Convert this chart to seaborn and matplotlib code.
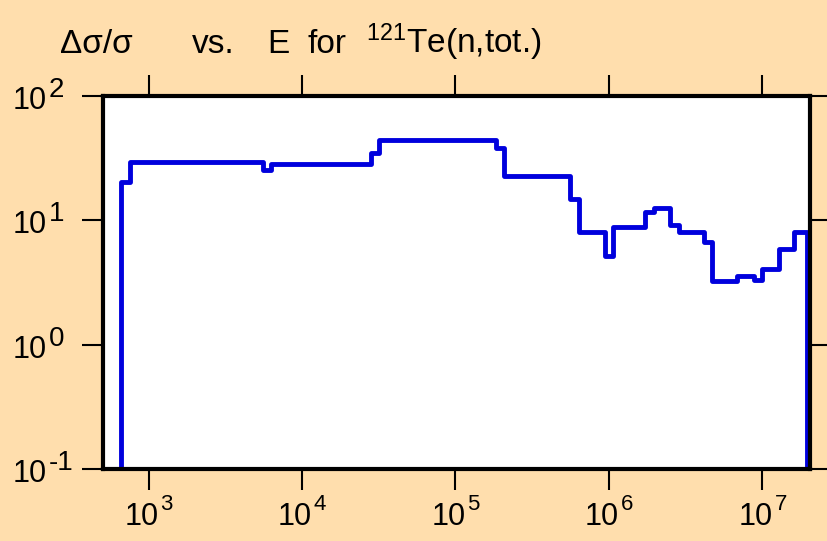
import matplotlib
matplotlib.use("Agg")
import matplotlib.pyplot as plt
import seaborn as sns
from matplotlib.ticker import FixedLocator, NullLocator, NullFormatter

# group boundaries (eV) and relative uncertainty (%) of each group
energy_edges = [665, 752, 5.6e3, 6.3e3, 2.82e4, 3.18e4, 1.84e5, 2.07e5,
                5.61e5, 6.37e5, 9.4e5, 1.07e6, 1.73e6, 1.96e6, 2.51e6,
                2.87e6, 4.14e6, 4.71e6, 6.84e6, 8.77e6, 9.95e6, 1.29e7,
                1.6e7, 1.95e7]
rel_unc = [20.4, 29.6, 25.4, 28.4, 34.8, 43.9, 38.2, 22.7, 14.9, 8.1,
           5.2, 8.9, 11.6, 12.6, 9.2, 8.1, 6.75, 3.27, 3.55, 3.29, 4.06,
           5.9, 8.05]
x_exps = [3, 4, 5, 6, 7]
y_exps = [-1, 0, 1, 2]
title_parts = ["Δσ/σ", "vs.", "E", "for", "$^{121}$Te(n,tot.)"]
title_x = [60, 192, 267, 307, 366]  # left edge of each word, px

bg = "#ffdead"
floor = 1e-3  # the curve drops out of the frame at both ends

sns.set_theme(style="ticks")
plt.rcParams["font.family"] = ["Liberation Sans", "DejaVu Sans"]
plt.rcParams["mathtext.fontset"] = "custom"
plt.rcParams["mathtext.rm"] = "Liberation Sans"
plt.rcParams["mathtext.it"] = "Liberation Sans:italic"

xs = [energy_edges[0]] + energy_edges
ys = [floor] + rel_unc + [floor]

W, H = 827, 541
fig = plt.figure(figsize=(W / 100, H / 100), dpi=100, facecolor=bg)
ax = fig.add_axes([0.1245, 0.133, 0.8545, 0.6896])
ax.set_facecolor("white")

sns.lineplot(x=xs, y=ys, ax=ax, sort=False, estimator=None,
             drawstyle="steps-post", color="#0000dd", linewidth=3.5)

ax.set_xscale("log")
ax.set_yscale("log")
ax.set_xlim(505, 2.03e7)
ax.set_ylim(0.1, 100)
ax.xaxis.set_major_locator(FixedLocator([10.0 ** e for e in x_exps]))
ax.yaxis.set_major_locator(FixedLocator([10.0 ** e for e in y_exps]))
ax.xaxis.set_minor_locator(NullLocator())
ax.yaxis.set_minor_locator(NullLocator())
ax.xaxis.set_major_formatter(NullFormatter())
ax.yaxis.set_major_formatter(NullFormatter())

for s in ax.spines.values():
    s.set_visible(True)
    s.set_color("black")
    s.set_linewidth(3)

ax.tick_params(which="major", direction="out", length=15, width=1.5,
               color="black", top=True, right=True)

# tick labels: "10" with a large raised exponent
lab = dict(textcoords="offset pixels", color="black", va="baseline",
           annotation_clip=False)
for e in x_exps:
    xy = (10.0 ** e, 0)
    ax.annotate("10", xy, xycoords=ax.get_xaxis_transform(),
                xytext=(10, -56), ha="right", fontsize=22, **lab)
    ax.annotate(str(e), xy, xycoords=ax.get_xaxis_transform(),
                xytext=(12, -41), ha="left", fontsize=16, **lab)
for e in y_exps:
    xy = (0, 10.0 ** e)
    ax.annotate("10", xy, xycoords=ax.get_yaxis_transform(),
                xytext=(-56, -13), ha="right", fontsize=22, **lab)
    ax.annotate(str(e), xy, xycoords=ax.get_yaxis_transform(),
                xytext=(-54, -1), ha="left", fontsize=20, **lab)

for part, px in zip(title_parts, title_x):
    fig.text(px / W, 1 - 53 / H, part, fontsize=24, color="black",
             ha="left", va="baseline")

fig.savefig("out.png", dpi=100, facecolor=bg)
